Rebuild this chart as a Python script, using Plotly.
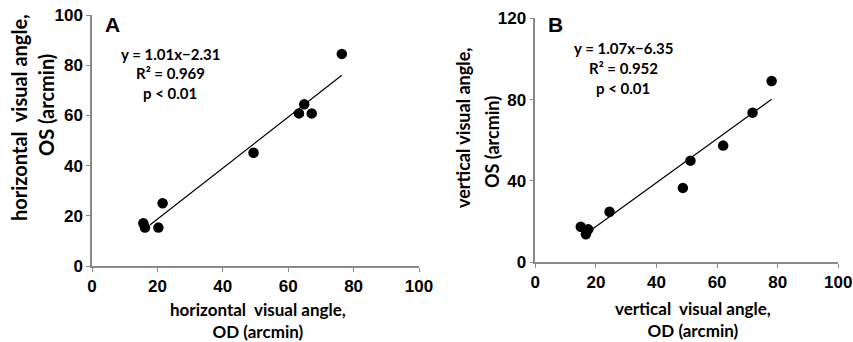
import plotly.graph_objects as go

# Panel A: horizontal visual angle (arcmin)
a_od = [76.4, 64.9, 63.3, 67.2, 49.4, 21.6, 15.7, 16.2, 20.3]
a_os = [84.5, 64.4, 60.8, 60.8, 45.1, 25.0, 17.0, 15.3, 15.3]
a_fit_x = [17.7, 76.4]
a_fit_y = [16.3, 76.0]

# Panel B: vertical visual angle (arcmin)
b_od = [78.0, 71.7, 62.0, 51.2, 48.7, 24.5, 15.0, 17.5, 16.7]
b_os = [89.2, 73.6, 57.4, 50.0, 36.6, 24.9, 17.5, 16.2, 13.8]
b_fit_x = [18.9, 78.0]
b_fit_y = [16.4, 80.2]

a_ticks = [0, 20, 40, 60, 80, 100]
b_yticks = [0, 40, 80, 120]

W, H = 853, 342
tickfont = dict(family="Liberation Sans, Arial", size=17, color="black", weight="bold")
xtitlefont = dict(family="Lato", size=17, color="black")
titlefont = dict(family="Lato", size=18, color="black")
bigtitlefont = dict(family="Lato", size=20, color="black")
eqfont = dict(family="Lato", size=15, color="black")

fig = go.Figure()
mk = dict(color="black", size=10.5)
fig.add_trace(go.Scatter(x=a_fit_x, y=a_fit_y, mode="lines", line=dict(color="black", width=1.2),
                         xaxis="x", yaxis="y", showlegend=False))
fig.add_trace(go.Scatter(x=a_od, y=a_os, mode="markers", marker=mk, xaxis="x", yaxis="y", showlegend=False))
fig.add_trace(go.Scatter(x=b_fit_x, y=b_fit_y, mode="lines", line=dict(color="black", width=1.2),
                         xaxis="x2", yaxis="y2", showlegend=False))
fig.add_trace(go.Scatter(x=b_od, y=b_os, mode="markers", marker=mk, xaxis="x2", yaxis="y2", showlegend=False))

def px(x):
    return x / W

def py(y):
    return (H - y) / H

axcommon = dict(showgrid=False, zeroline=False, showline=True, linecolor="#8a8a8a", linewidth=1.5,
                ticks="outside", ticklen=4, tickcolor="#8a8a8a", tickfont=tickfont, automargin=False)

fig.update_layout(
    width=W, height=H, margin=dict(l=0, r=0, t=0, b=0),
    paper_bgcolor="white", plot_bgcolor="white",
    xaxis=dict(domain=[px(92), px(419)], range=[0, 100], tickvals=a_ticks, anchor="y", **axcommon),
    yaxis=dict(domain=[py(266), py(15)], range=[0, 100], tickvals=a_ticks, anchor="x", **axcommon),
    xaxis2=dict(domain=[px(535.3), px(838.3)], range=[0, 100], tickvals=a_ticks, anchor="y2", **axcommon),
    yaxis2=dict(domain=[py(262.3), py(18.3)], range=[0, 120], tickvals=b_yticks, anchor="x2", **axcommon),
)

def ann(text, x, y, font, angle=0):
    fig.add_annotation(text=text, x=px(x), y=py(y), xref="paper", yref="paper", showarrow=False,
                       font=font, textangle=angle, xanchor="center", yanchor="middle")

# Panel labels
ann("<b>A</b>", 112, 25, dict(family="Liberation Sans, Arial", size=21, color="black"))
ann("<b>B</b>", 555, 25, dict(family="Liberation Sans, Arial", size=21, color="black"))

# Equations
ann("<b>y = 1.01x−2.31</b>", 170, 54, eqfont)
ann("<b>R² = 0.969</b>", 170, 73, eqfont)
ann("<b>p < 0.01</b>", 170, 93, eqfont)
ann("<b>y = 1.07x−6.35</b>", 623, 48, eqfont)
ann("<b>R² = 0.952</b>", 623, 68, eqfont)
ann("<b>p < 0.01</b>", 623, 88, eqfont)

# Axis titles
ann("<b>horizontal  visual angle,<br>OD (arcmin)</b>", 258, 320, xtitlefont)
ann("<b>horizontal  visual angle,</b>", 19, 118, bigtitlefont, -90)
ann("<b>OS (arcmin)</b>", 46, 105, bigtitlefont, -90)
ann("<b>vertical  visual angle,<br>OD (arcmin)</b>", 693, 319, xtitlefont)
ann("<b>vertical visual angle,</b>", 463, 128, titlefont, -90)
ann("<b>OS (arcmin)</b>", 492, 142, titlefont, -90)

fig.write_html("out.html", config={"displayModeBar": False},
               post_script="document.body.style.margin='0';")
